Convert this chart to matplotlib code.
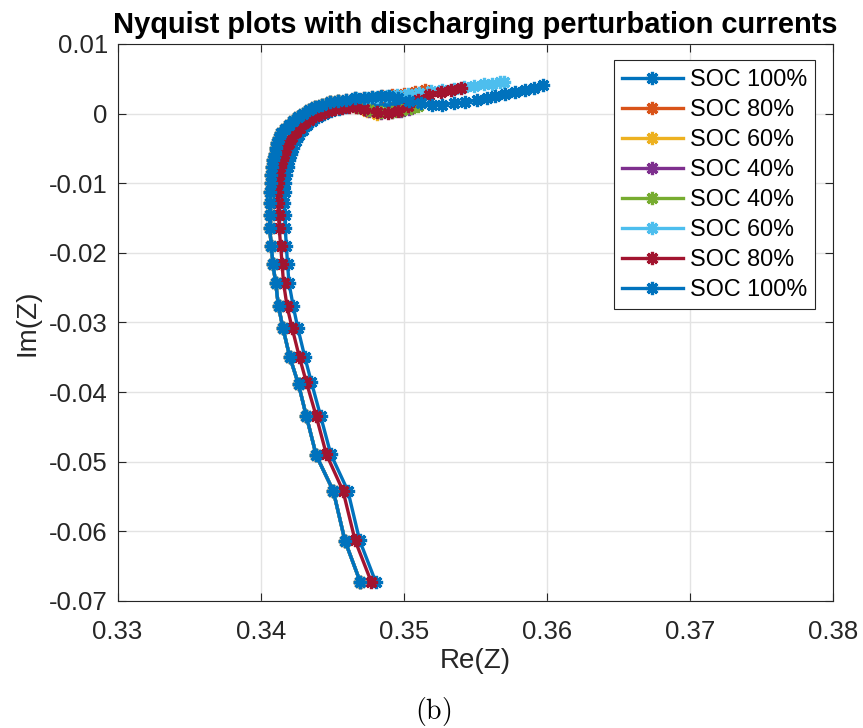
import matplotlib
matplotlib.use('Agg')

import numpy as np
from matplotlib import pyplot as plt

# high-frequency branch shared by the left group of curves
re_left = [0.34697, 0.34590, 0.34508, 0.34389, 0.34320, 0.34265, 0.34203, 0.34156,
           0.34125, 0.34105, 0.34086, 0.34075, 0.34063, 0.34063, 0.34063, 0.34068,
           0.34070, 0.34075, 0.34080, 0.34088, 0.34097, 0.34105, 0.34112, 0.34125,
           0.34145, 0.34170, 0.34198, 0.34228, 0.34260, 0.34295, 0.34335, 0.34380,
           0.34430, 0.34485, 0.34540]
im_left = [-0.0673, -0.0614, -0.0542, -0.0491, -0.0435, -0.0389, -0.0349, -0.0308,
           -0.0277, -0.0243, -0.0216, -0.0190, -0.0165, -0.0146, -0.0129, -0.0113,
           -0.0100, -0.0088, -0.0077, -0.0067, -0.0058, -0.0050, -0.0042, -0.0035,
           -0.0028, -0.0022, -0.0016, -0.0010, -0.0005, 0.0000, 0.0005, 0.0009,
           0.0013, 0.0016, 0.0018]

# low-frequency ends of the left group
re_end_80 = [0.3460, 0.3466, 0.3472, 0.3478, 0.3485, 0.3492, 0.3500, 0.3508, 0.3515]
im_end_80 = [0.0020, 0.0022, 0.0023, 0.0024, 0.0025, 0.0026, 0.0028, 0.0031, 0.0034]
re_end_60 = [0.3460, 0.3467, 0.3474, 0.3481]
im_end_60 = [0.0014, 0.0009, 0.0004, 0.0000]
re_end_40 = [0.3460, 0.3468, 0.3476, 0.3484, 0.3492, 0.3498, 0.3504]
im_end_40 = [0.0014, 0.0009, 0.0004, 0.0001, 0.0002, 0.0004, 0.0006]
re_end_40b = [0.3460, 0.3468, 0.3476, 0.3484, 0.3492, 0.3499, 0.3505, 0.3510]
im_end_40b = [0.0015, 0.0010, 0.0005, 0.0002, 0.0003, 0.0005, 0.0008, 0.0011]
re_end_60b = [0.3460, 0.3467, 0.3474, 0.3481, 0.3488, 0.3495, 0.3503, 0.3511, 0.3519,
              0.3527, 0.3535, 0.3542, 0.3549, 0.3556, 0.3562, 0.3567, 0.3570]
im_end_60b = [0.0020, 0.0022, 0.0023, 0.0024, 0.0025, 0.0026, 0.0028, 0.0030, 0.0032,
              0.0034, 0.0036, 0.0038, 0.0040, 0.0042, 0.0043, 0.0045, 0.0045]
re_end_100b = [0.3460, 0.3466, 0.3472, 0.3478, 0.3484, 0.3490, 0.3496, 0.3504, 0.3512,
               0.3520, 0.3527, 0.3535, 0.3543, 0.3551, 0.3558, 0.3564, 0.3571, 0.3578,
               0.3585, 0.3591, 0.3597]
im_end_100b = [0.0020, 0.0022, 0.0023, 0.0024, 0.0025, 0.0025, 0.0022, 0.0018, 0.0015,
               0.0013, 0.0013, 0.0015, 0.0017, 0.0019, 0.0022, 0.0025, 0.0028, 0.0031,
               0.0034, 0.0037, 0.0041]

# right group: first SOC 100% and second SOC 80%
re_100 = [0.34805, 0.34692, 0.34610, 0.34490, 0.34420, 0.34355, 0.34308, 0.34260,
          0.34228, 0.34198, 0.34188, 0.34180, 0.34172, 0.34168, 0.34166, 0.34168,
          0.34172, 0.34180, 0.34190, 0.34200, 0.34212, 0.34226, 0.34245, 0.34268,
          0.34295, 0.34325, 0.34360, 0.34400, 0.34445, 0.34495, 0.34545, 0.34600,
          0.34660, 0.34720, 0.34780, 0.34840, 0.34900, 0.34960, 0.35020, 0.35080]
im_100 = [-0.0673, -0.0613, -0.0542, -0.0489, -0.0435, -0.0386, -0.0349, -0.0308,
          -0.0277, -0.0243, -0.0216, -0.0190, -0.0165, -0.0146, -0.0129, -0.0113,
          -0.0100, -0.0088, -0.0077, -0.0067, -0.0058, -0.0050, -0.0040, -0.0031,
          -0.0023, -0.0016, -0.0010, -0.0005, 0.0000, 0.0004, 0.0007, 0.0010,
          0.0012, 0.0014, 0.0016, 0.0017, 0.0017, 0.0017, 0.0016, 0.0015]
re_80b = [0.34774, 0.34660, 0.34576, 0.34459, 0.34389, 0.34320, 0.34270, 0.34220,
          0.34185, 0.34160, 0.34150, 0.34140, 0.34130, 0.34125, 0.34120, 0.34115,
          0.34118, 0.34125, 0.34135, 0.34147, 0.34160, 0.34175, 0.34195, 0.34220,
          0.34245, 0.34275, 0.34305, 0.34340, 0.34380, 0.34420, 0.34470, 0.34520,
          0.34570, 0.34620, 0.34670, 0.34720, 0.34810, 0.34890, 0.34960, 0.35030,
          0.35100, 0.35180, 0.35260, 0.35330, 0.35400]
im_80b = [-0.0673, -0.0613, -0.0542, -0.0489, -0.0435, -0.0386, -0.0349, -0.0308,
          -0.0277, -0.0243, -0.0216, -0.0190, -0.0165, -0.0146, -0.0129, -0.0113,
          -0.0100, -0.0088, -0.0077, -0.0067, -0.0058, -0.0050, -0.0042, -0.0034,
          -0.0027, -0.0020, -0.0014, -0.0009, -0.0004, 0.0000, 0.0004, 0.0006,
          0.0008, 0.0009, 0.0009, 0.0006, 0.0002, 0.0001, 0.0004, 0.0011,
          0.0020, 0.0027, 0.0031, 0.0034, 0.0037]

labels = ['SOC 100%', 'SOC 80%', 'SOC 60%', 'SOC 40%',
          'SOC 40%', 'SOC 60%', 'SOC 80%', 'SOC 100%']
colors = ['#0072BD', '#D95319', '#EDB120', '#7E2F8E',
          '#77AC30', '#4DBEEE', '#A2142F', '#0072BD']

series = [
    (re_100, im_100),
    (re_left + re_end_80, im_left + im_end_80),
    (re_left + re_end_60, im_left + im_end_60),
    (re_left + re_end_40, im_left + im_end_40),
    (re_left + re_end_40b, im_left + im_end_40b),
    (re_left + re_end_60b, im_left + im_end_60b),
    (re_80b, im_80b),
    (re_left + re_end_100b, im_left + im_end_100b),
]

plt.rcParams['font.family'] = ['Liberation Sans', 'DejaVu Sans']
plt.rcParams['mathtext.fontset'] = 'cm'

fig = plt.figure(figsize=(8.63, 7.28), dpi=100)
ax = fig.add_axes([0.1362, 0.1745, 0.8290, 0.7651])

for (re, im), lab, col in zip(series, labels, colors):
    ax.plot(re, im, color=col, lw=2.4, marker=(8, 2, 0), ms=9.5, mew=2.3,
            label=lab)

ax.set_xlim(0.33, 0.38)
ax.set_ylim(-0.07, 0.01)
ax.set_xticks(np.arange(0.33, 0.3801, 0.01))
ax.set_yticks(np.arange(-0.07, 0.0101, 0.01))
ax.set_xticklabels(['0.33', '0.34', '0.35', '0.36', '0.37', '0.38'])
ax.set_yticklabels(['-0.07', '-0.06', '-0.05', '-0.04', '-0.03', '-0.02',
                    '-0.01', '0', '0.01'])
ax.grid(True, color='#e3e3e3', lw=1.0)
ax.set_axisbelow(True)
ax.tick_params(direction='in', length=5.5, width=0.8, colors='#262626',
               labelsize=18.5, top=True, right=True, pad=7)
ax.tick_params(axis='x', pad=13.5)
for s in ax.spines.values():
    s.set_color('#262626')
    s.set_linewidth(0.8)

ax.set_xlabel('Re(Z)', fontsize=20, color='#262626', labelpad=3)
ax.set_ylabel('Im(Z)', fontsize=20, color='#262626', labelpad=6)
ax.set_title('Nyquist plots with discharging perturbation currents',
             fontsize=20.9, fontweight='bold', pad=8)

leg = ax.legend(loc='upper right', bbox_to_anchor=(0.975, 0.971),
                borderaxespad=0, fontsize=16.8, handlelength=2.6,
                labelspacing=0.3, handletextpad=0.3, borderpad=0.35,
                fancybox=False, framealpha=1, edgecolor='#262626')
leg.get_frame().set_linewidth(0.8)

fig.text(0.502, 1 - 711 / 728, r'$\mathrm{(b)}$', fontsize=20,
         ha='center', va='center')

fig.savefig('out.png', dpi=100)
